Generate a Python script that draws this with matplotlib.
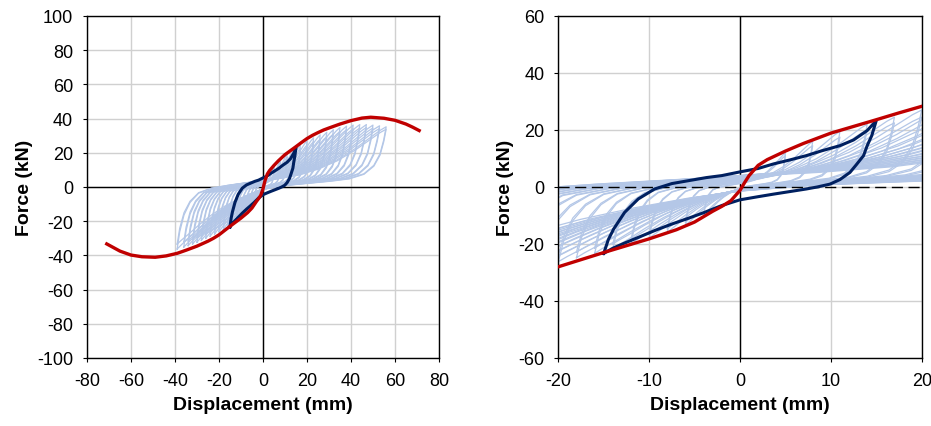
import matplotlib
matplotlib.use("Agg")
import matplotlib.pyplot as plt

plt.rcParams['font.family'] = ['Liberation Sans', 'DejaVu Sans']
plt.rcParams['axes.unicode_minus'] = False

# backbone (red) curve
red_disp = [-71, -65, -60, -55, -49, -44, -39, -35, -30, -25, -22.5, -20, -15, -10, -7, -5, -3, -2, -1,
            0, 0.5, 1, 2, 3, 5, 7, 10, 15, 17.5, 20, 22.5, 25, 27.5, 30, 35, 40, 45, 49, 55, 60, 65, 68, 71]
red_force = [-33.3, -37.5, -39.8, -40.8, -41.1, -40.3, -38.8, -37, -34.6, -31.7, -30, -28, -23, -18.2, -15, -12.3, -8.5, -6.8, -4.8,
             -1.2, 1.5, 4, 7.6, 9.6, 12.6, 15.3, 18.9, 23.6, 26, 28.3, 30.2, 31.8, 33.3, 34.5, 36.8, 38.8, 40.3, 40.8, 40.2, 39, 36.8, 35, 33]

# highlighted cycle (dark blue): loading along the top, unloading along the bottom
loop_disp = [-15, -14.5, -13.9, -12.7, -11.2, -9.4, -7.5, -5.7, -3.7, -2, 0, 2, 3.7, 5.5, 7.3, 9, 11, 12.5, 14, 15,
             14.5, 14, 13.6, 12.8, 12.1, 11, 9.9, 8.5, 7.3, 5.5, 3.7, 2, 0, -2, -3.9, -5.7, -7.5, -9.4, -11.2, -12.8, -14, -15]
loop_force = [-23.3, -18.5, -14.7, -8.9, -4.2, -0.7, 1.2, 2.2, 3.3, 4, 5.3, 6.5, 8.1, 9.5, 11, 12.7, 14.5, 16.5, 19.8, 23.3,
              18, 14.5, 11, 7.8, 5.1, 2.6, 1, 0, -0.7, -1.6, -2.5, -3.4, -4.5, -6.5, -8.9, -11, -13, -15.3, -17.7, -19.8, -21.5, -23.3]

# typical test cycle, as a fraction of its peaks (negative peak -> positive peak -> back)
cycle_u = [-1, -0.97, -0.92, -0.85, -0.75, -0.6, -0.4, -0.2, 0, 0.15, 0.3, 0.45, 0.6, 0.75, 0.87, 0.95, 1,
           0.98, 0.95, 0.9, 0.82, 0.7, 0.55, 0.35, 0.15, 0, -0.15, -0.3, -0.45, -0.6, -0.75, -0.87, -0.95, -1]
cycle_v = [-1, -0.72, -0.45, -0.25, -0.1, -0.02, 0.03, 0.07, 0.11, 0.15, 0.21, 0.31, 0.45, 0.64, 0.82, 0.94, 1,
           0.78, 0.55, 0.36, 0.22, 0.14, 0.1, 0.06, 0.02, -0.04, -0.12, -0.22, -0.34, -0.49, -0.67, -0.83, -0.93, -1]

# peaks of the other test cycles (light blue), two cycles per amplitude
cyc_pos_disp = [5, 5, 8, 8, 11, 11, 14, 14, 17, 17, 20, 20, 23, 23, 26, 26, 29, 29,
                32, 32, 35, 35, 38, 38, 41, 41, 44, 44, 47, 47, 50, 50, 53, 53, 56, 56]
cyc_pos_force = [12, 11, 16, 14.5, 19.5, 17.5, 22, 20, 24.5, 22.5, 27, 24.5, 28.8, 26.5, 30.5, 28, 32, 29.5,
                 33.5, 31, 34.8, 32.5, 35.6, 33.5, 36.2, 34, 36.5, 34.5, 36.5, 34.8, 36.2, 34.5, 35.8, 34.2, 35.2, 33.8]
cyc_neg_disp = [-4, -4, -6, -6, -8, -8, -10, -10, -12, -12, -14, -14, -16, -16, -18, -18, -20, -20,
                -22, -22, -24, -24, -26, -26, -28, -28, -30, -30, -32, -32, -34, -34, -36, -36, -39, -39]
cyc_neg_force = [-10.5, -9.7, -13.5, -12.4, -16, -14.7, -18, -16.6, -20, -18.4, -21.8, -20, -23.3, -21.4, -24.8, -22.8,
                 -26.2, -24.1, -27.5, -25.3, -28.8, -26.5, -30, -27.6, -31.2, -28.7, -32.3, -29.7, -33.3, -30.6,
                 -34.3, -31.6, -35.2, -32.4, -36.3, -33.4]

light_blue = '#b4c7e7'
dark_blue = '#002060'
red = '#c00000'

fig = plt.figure(figsize=(9.31, 4.27), dpi=100)
ax1 = fig.add_axes([0.0934, 0.1593, 0.3781, 0.8009])
ax2 = fig.add_axes([0.5997, 0.1593, 0.3903, 0.8009])

for ax in [ax1, ax2]:
    # light blue cycles: the typical cycle stretched to each cycle's peaks
    for dp, fp, dn, fn in zip(cyc_pos_disp, cyc_pos_force, cyc_neg_disp, cyc_neg_force):
        xs = [u * dp if u > 0 else u * (-dn) for u in cycle_u]
        fs = [v * fp if v > 0 else v * (-fn) for v in cycle_v]
        ax.plot(xs, fs, color=light_blue, lw=0.9, zorder=2)
    ax.plot(loop_disp, loop_force, color=dark_blue, lw=2.2, zorder=4)
    ax.plot(red_disp, red_force, color=red, lw=2.4, zorder=5)

    ax.grid(True, color='#d0d0d0', lw=1)
    ax.set_axisbelow(True)
    ax.axvline(0, color='black', lw=1, zorder=1.5)
    for s in ax.spines.values():
        s.set_color('black')
        s.set_linewidth(1)
    ax.tick_params(labelsize=13, length=3, pad=7, color='black')
    ax.set_xlabel("Displacement (mm)", fontsize=14, fontweight='bold', labelpad=5)
    ax.set_ylabel("Force (kN)", fontsize=14, fontweight='bold', labelpad=3)

ax1.axhline(0, color='black', lw=1, zorder=1.5)
ax2.axhline(0, color='black', lw=1, ls=(0, (8, 4)), zorder=3)

ax1.set_xlim(-80, 80)
ax1.set_ylim(-100, 100)
ax1.set_xticks(range(-80, 81, 20))
ax1.set_yticks(range(-100, 101, 20))

ax2.set_xlim(-20, 20)
ax2.set_ylim(-60, 60)
ax2.set_xticks(range(-20, 21, 10))
ax2.set_yticks(range(-60, 61, 20))

fig.savefig("out.png", dpi=100)
